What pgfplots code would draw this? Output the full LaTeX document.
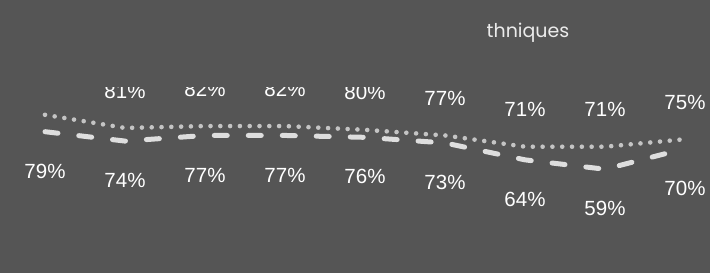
\documentclass[border=0pt]{standalone}
\usepackage{pgfplots}
\pgfplotsset{compat=1.18}
\usepackage{fontspec}
\setmainfont{Liberation Sans}
\newfontfamily\titlefont{Poppins}
\definecolor{bg}{HTML}{555555}
\definecolor{dotc}{HTML}{C4C4C4}
\definecolor{dashc}{HTML}{DEDEDE}
\begin{document}
\begin{tikzpicture}[x=1pt,y=1pt]
\fill[bg] (0,0) rectangle (710,273);
\path[use as bounding box] (0,0) rectangle (710,273);
\node[text=white!92!black, font=\titlefont\fontsize{19}{22}\selectfont, anchor=base, inner sep=0pt] at (528,235) {thniques};
\begin{scope}
\clip (0,0) rectangle (710,185);
\begin{axis}[
  at={(0,0)}, anchor=south west,
  scale only axis, width=710pt, height=185pt,
  xmin=-0.5625, xmax=8.3125, ymin=3.72, ymax=102.28,
  axis lines=none, ticks=none, clip=true,
  nodes near coords={\pgfmathprintnumber[assume math mode=true,fixed,precision=0]{\pgfplotspointmeta}\%},
  point meta=y,
]
\addplot[dotc, line width=4.6pt, line cap=round, dash pattern=on 0pt off 9.8pt, mark=none,
  every node near coord/.append style={anchor=center, yshift=37pt, text=white, font=\fontsize{20.5}{24}\selectfont, inner sep=0pt}]
  coordinates {(0,88) (1,81) (2,82) (3,82) (4,80) (5,77) (6,71) (7,71) (8,75)};
\addplot[dashc, line width=5pt, line cap=round, dash pattern=on 13pt off 21pt, mark=none,
  every node near coord/.append style={anchor=center, yshift=-39.5pt, text=white, font=\fontsize{20.5}{24}\selectfont, inner sep=0pt}]
  coordinates {(0,79) (1,74) (2,77) (3,77) (4,76) (5,73) (6,64) (7,59) (8,70)};
\end{axis}
\end{scope}
\end{tikzpicture}
\end{document}
